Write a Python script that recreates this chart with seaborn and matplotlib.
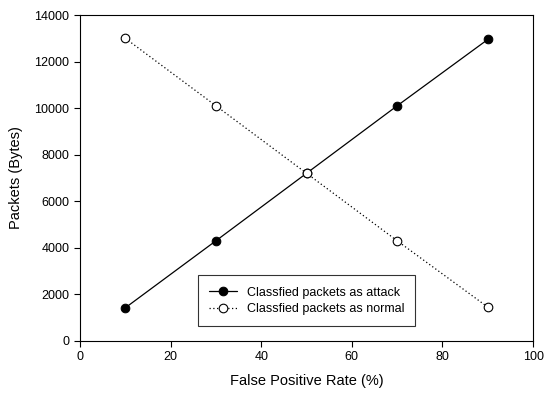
import matplotlib
matplotlib.use("Agg")
import matplotlib.pyplot as plt
import seaborn as sns
import pandas as pd

sns.set_style("ticks")
plt.rcParams["font.family"] = ["Liberation Sans", "DejaVu Sans"]
plt.rcParams["text.color"] = "black"
plt.rcParams["axes.labelcolor"] = "black"
plt.rcParams["xtick.color"] = "black"
plt.rcParams["ytick.color"] = "black"

fpr = [10, 30, 50, 70, 90]
attack = [1420, 4300, 7200, 10100, 12950]
normal = [13000, 10100, 7200, 4300, 1450]

df = pd.DataFrame({"fpr": fpr, "attack": attack, "normal": normal})

fig = plt.figure(figsize=(5.44, 3.95), dpi=100)
ax = fig.add_axes([0.147, 0.137, 0.833, 0.825])

sns.lineplot(data=df, x="fpr", y="attack", ax=ax, color="black", lw=0.9,
             marker="o", markersize=6.2, markerfacecolor="black",
             markeredgecolor="black", label="Classfied packets as attack")
sns.lineplot(data=df, x="fpr", y="normal", ax=ax, color="black", lw=0.9,
             linestyle=(0, (1, 2)), marker="o", markersize=6.2,
             markerfacecolor="white", markeredgecolor="black",
             markeredgewidth=0.8, label="Classfied packets as normal")

ax.set_xlim(0, 100)
ax.set_ylim(0, 14000)
ax.set_xticks(range(0, 101, 20))
ax.set_yticks(range(0, 14001, 2000))
ax.tick_params(axis="both", labelsize=9, direction="out", length=4,
               width=0.8, color="black", top=False, right=False)
for s in ax.spines.values():
    s.set_color("black")
    s.set_linewidth(0.8)

ax.set_xlabel("False Positive Rate (%)", fontsize=10.5, labelpad=8)
ax.set_ylabel("Packets (Bytes)", fontsize=10.5, labelpad=8)

leg = ax.legend(loc="lower center", bbox_to_anchor=(0.5, 0.045), fontsize=9,
                frameon=True, fancybox=False, edgecolor="black",
                handlelength=2.2, borderpad=0.9, labelspacing=0.35,
                borderaxespad=0)
leg.get_frame().set_linewidth(0.8)

fig.savefig("out.png", dpi=100)
